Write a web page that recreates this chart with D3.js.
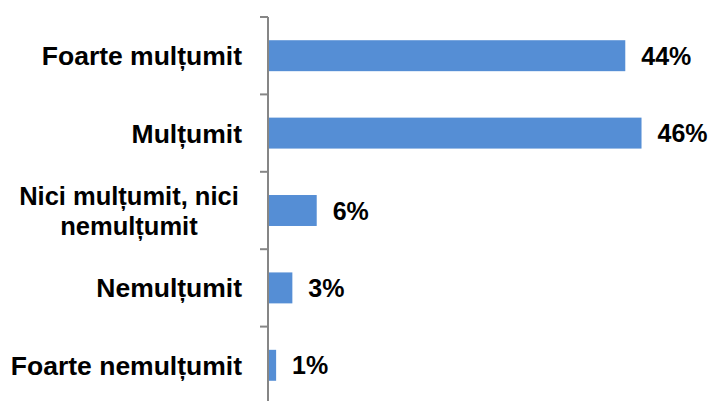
<!DOCTYPE html>
<html>
<head>
<meta charset="utf-8">
<script src="https://cdn.jsdelivr.net/npm/d3@7"></script>
<style>
  body { margin: 0; background: #fff; }
  text { font-family: "Liberation Sans", Arial, sans-serif; font-weight: bold; fill: #000; }
</style>
</head>
<body>
<svg width="711" height="401"></svg>
<script>
// categories top to bottom, values in %
var categories = ["Foarte mulțumit", "Mulțumit", "Nici mulțumit, nici nemulțumit", "Nemulțumit", "Foarte nemulțumit"];
var values = [44, 46, 6, 3, 1];
var valueLabels = ["44%", "46%", "6%", "3%", "1%"];
// wrapped label lines
var labelLines = [["Foarte mulțumit"], ["Mulțumit"], ["Nici mulțumit, nici", "nemulțumit"], ["Nemulțumit"], ["Foarte nemulțumit"]];

var svg = d3.select("svg");
var axisX = 268;

var x = d3.scaleLinear().domain([0, 55]).range([axisX, axisX + 55 * 8.12]);
var y = d3.scaleBand().domain(categories).range([17, 404]).paddingInner(0.6).paddingOuter(0.3);

// bars
svg.append("g").selectAll("rect")
  .data(categories)
  .enter().append("rect")
    .attr("x", x(0) + 1)
    .attr("y", d => y(d))
    .attr("width", (d, i) => x(values[i]) - x(0) - 1)
    .attr("height", y.bandwidth())
    .attr("fill", "#558ed5");

// axis line and ticks (between categories)
var tickYs = d3.range(categories.length + 1).map(i => 17 + i * (387 / 5));
svg.append("line")
  .attr("x1", axisX).attr("x2", axisX)
  .attr("y1", 17).attr("y2", 404)
  .attr("stroke", "#868686").attr("stroke-width", 2);
svg.append("g").selectAll("line")
  .data(tickYs)
  .enter().append("line")
    .attr("x1", axisX - 8).attr("x2", axisX)
    .attr("y1", d => d).attr("y2", d => d)
    .attr("stroke", "#868686").attr("stroke-width", 2);

// value labels
svg.append("g").selectAll("text")
  .data(categories)
  .enter().append("text")
    .attr("x", (d, i) => x(values[i]) + 16)
    .attr("y", d => y(d) + y.bandwidth() / 2)
    .attr("dy", "0.36em")
    .style("font-size", "25px")
    .text((d, i) => valueLabels[i]);

// category labels
var lab = svg.append("g").selectAll("g")
  .data(categories)
  .enter().append("g");
lab.each(function(d, i) {
  var lines = labelLines[i];
  var cy = y(d) + y.bandwidth() / 2;
  var g = d3.select(this);
  if (lines.length === 1) {
    g.append("text")
      .attr("x", 242).attr("y", cy).attr("dy", "0.36em")
      .attr("text-anchor", "end")
      .style("font-size", "26.5px")
      .text(lines[0]);
  } else {
    lines.forEach(function(l, j) {
      g.append("text")
        .attr("x", 129).attr("y", cy + (j - 0.5) * 30).attr("dy", "0.36em")
        .attr("text-anchor", "middle")
        .style("font-size", "25.5px")
        .text(l);
    });
  }
});
</script>
</body>
</html>
